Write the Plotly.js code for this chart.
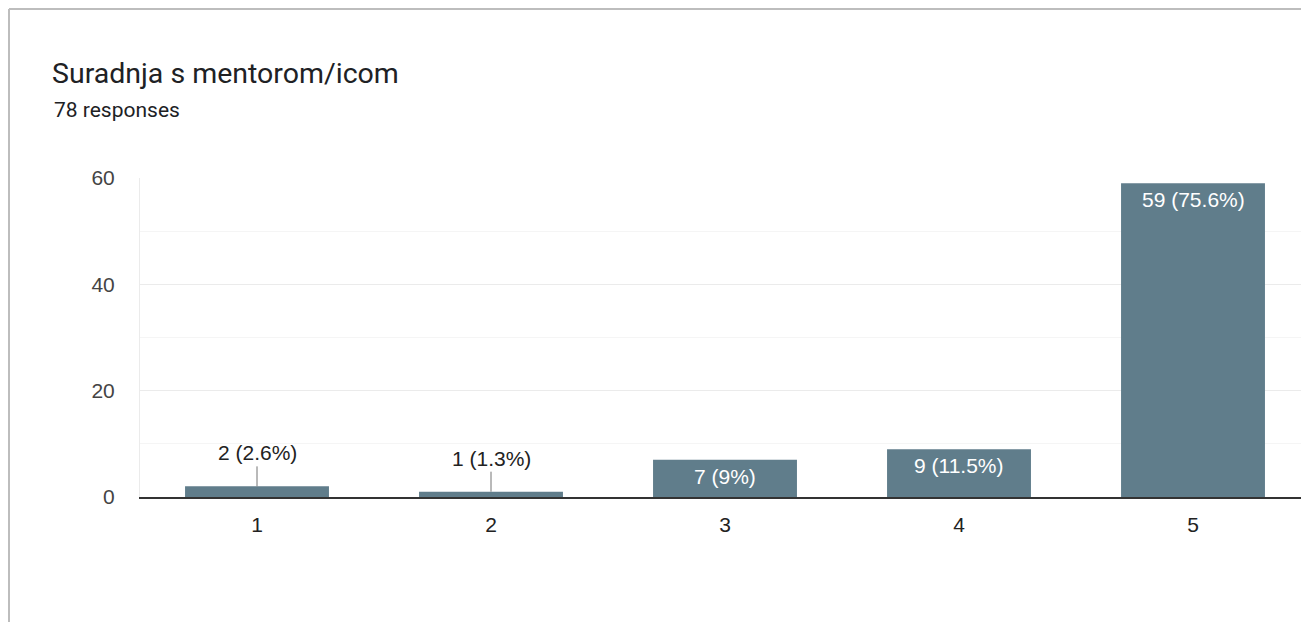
<!DOCTYPE html>
<html>
<head>
<meta charset="utf-8">
<script src="https://cdn.plot.ly/plotly-3.0.1.min.js"></script>
<style>html,body{margin:0;padding:0;background:#fff;overflow:hidden}#chart{width:1301px;height:622px}</style>
</head>
<body>
<div id="chart"></div>
<script>
const categories = ['1', '2', '3', '4', '5'];
const counts = [2, 1, 7, 9, 59];
const totalResponses = 78;
const yTickVals = [0, 20, 40, 60];
const titleText = 'Suradnja s mentorom/icom';
const subtitleText = totalResponses + ' responses';

const barColor = '#607d8b';
const labelFont = 'Liberation Sans, Arial, sans-serif';

const labels = counts.map(v => v + ' (' + (Math.round(v / totalResponses * 1000) / 10) + '%)');

const annotations = [];
counts.forEach((v, i) => {
  if (v < 5) {
    annotations.push({
      x: i, y: v, xref: 'x', yref: 'y',
      text: labels[i], showarrow: true, arrowhead: 0, arrowwidth: 1,
      arrowcolor: '#757575', ax: 0, ay: -20, yanchor: 'bottom',
      font: {family: labelFont, size: 21, color: '#222'}
    });
  } else {
    annotations.push({
      x: i, y: v, xref: 'x', yref: 'y',
      text: labels[i], showarrow: false, yanchor: 'top', yshift: -3,
      font: {family: labelFont, size: 21, color: '#ffffff'}
    });
  }
});
annotations.push({
  xref: 'paper', yref: 'paper', x: (52 - 140) / 1161, y: (497 - 110) / 319,
  xanchor: 'left', yanchor: 'middle', showarrow: false, text: subtitleText,
  font: {family: 'Roboto, sans-serif', size: 21, color: '#202124'}
});

const trace = {
  type: 'bar', x: categories, y: counts,
  marker: {color: barColor, line: {width: 0}},
  hoverinfo: 'skip'
};

const layout = {
  width: 1301, height: 622,
  margin: {l: 140, r: 0, t: 178, b: 125},
  paper_bgcolor: '#fff', plot_bgcolor: '#fff',
  showlegend: false,
  bargap: 0.385,
  title: {
    text: titleText, xref: 'container', yref: 'container',
    x: 52 / 1301, xanchor: 'left', y: 1 - 73 / 622, yanchor: 'middle',
    font: {family: 'Roboto, sans-serif', size: 28.5, color: '#202124'}
  },
  xaxis: {
    type: 'category', range: [-0.5, -0.5 + 1161 / 234],
    showgrid: false, zeroline: false, showline: true,
    linecolor: '#333', linewidth: 2,
    ticks: '', ticklabelstandoff: 8,
    tickfont: {family: labelFont, size: 21, color: '#222'}
  },
  yaxis: {
    range: [0, 60], tickvals: yTickVals,
    showgrid: true, gridcolor: '#ebebeb', gridwidth: 1,
    minor: {dtick: 10, showgrid: true, gridcolor: '#f5f5f5', gridwidth: 1},
    zeroline: false, showline: true, linecolor: '#ebebeb', linewidth: 1,
    ticks: '', ticklabelstandoff: 20,
    tickfont: {family: labelFont, size: 21, color: '#444'}
  },
  annotations: annotations,
  shapes: [
    {type: 'line', xref: 'paper', yref: 'paper',
     x0: (9 - 140) / 1161, x1: (9 - 140) / 1161, y0: (497 - 9) / 319, y1: (497 - 640) / 319,
     line: {color: '#bdbdbd', width: 2}},
    {type: 'line', xref: 'paper', yref: 'paper',
     x0: (9 - 140) / 1161, x1: 1.05, y0: (497 - 9) / 319, y1: (497 - 9) / 319,
     line: {color: '#bdbdbd', width: 2}}
  ]
};

Plotly.newPlot('chart', [trace], layout, {displayModeBar: false, staticPlot: true});
</script>
</body>
</html>
